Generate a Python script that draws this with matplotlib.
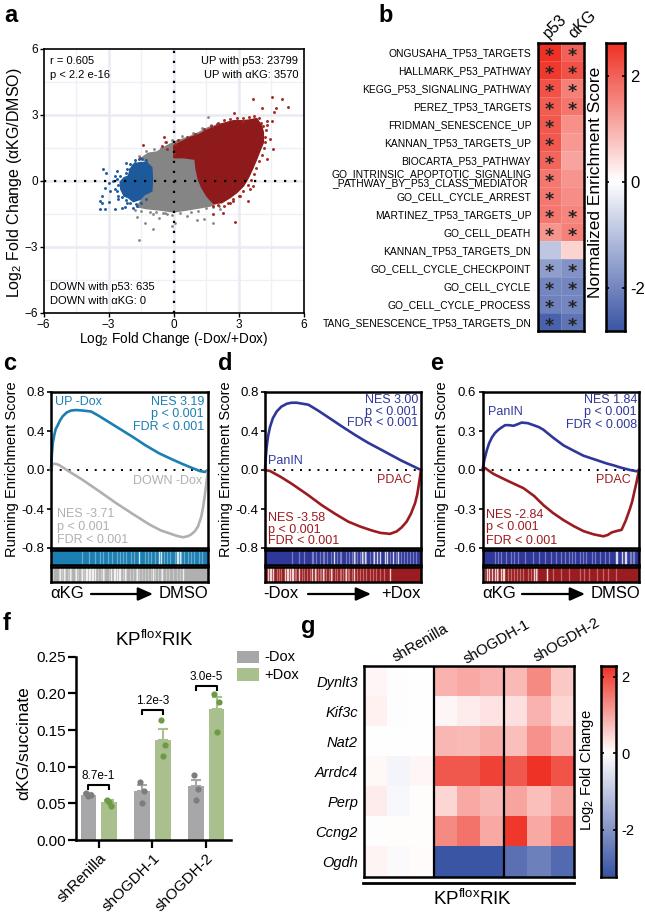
import matplotlib

matplotlib.use("Agg")
import matplotlib.pyplot as plt
from matplotlib.colors import LinearSegmentedColormap, TwoSlopeNorm
from matplotlib.patches import Rectangle

plt.rcParams["font.family"] = ["Liberation Sans", "DejaVu Sans"]
plt.rcParams["mathtext.fontset"] = "custom"
plt.rcParams["mathtext.rm"] = "Liberation Sans"
plt.rcParams["mathtext.it"] = "Liberation Sans:italic"
plt.rcParams["mathtext.default"] = "regular"

W, H = 645, 913

# panel a: cloud outlines and single points
gray_x = [-1.47, -1.17, -0.78, -0.32, 0.14, 0.75, 1.21, 1.6, 1.98, 2.44, 1.98, 1.67, 1.21, 0.6, 0, -0.63, -1.24, -1.7, -1.47, -1.24, -1.01, -1.01]
gray_y = [1.06, 1.26, 1.32, 1.6, 1.82, 2.02, 2.23, 2.43, 2.54, 0.68, -1.02, -1.14, -1.22, -1.32, -1.41, -1.32, -1.26, -1.17, -0.84, -0.61, -0.38, 0.53]
red_x = [0, 0.29, 0.75, 1.21, 1.52, 1.83, 2.13, 2.44, 2.75, 3.21, 3.51, 3.82, 4.05, 4.13, 4.13, 3.97, 3.82, 3.62, 3.44,
         3.21, 2.9, 2.59, 2.21, 1.83, 1.52, 1.29, 1.13, 1.03, 0.98, 0.44, 0]
red_y = [1.6, 1.75, 1.98, 2.13, 2.31, 2.43, 2.58, 2.66, 2.74, 2.74, 2.78, 2.84, 2.51, 2.2, 1.75, 1.37, 0.99, 0.53, 0.15,
         -0.23, -0.53, -0.76, -0.99, -1.02, -0.68, -0.3, 0.08, 0.53, 0.99, 1.06, 1.06]
blue_x = [-1.01, -0.98, -1.01, -1.32, -1.55, -1.86, -2.09, -2.29, -2.44, -2.47, -2.29, -2.09, -2.01, -1.86, -1.55, -1.24]
blue_y = [0.61, 0.08, -0.46, -0.61, -0.84, -0.94, -0.76, -0.68, -0.38, -0.05, 0.15, 0.23, 0.53, 0.76, 0.84, 0.84]
red_pts_x = [3.67, 4.51, 4.97, 5.28, 4.7, 4.05, 4.62, 4.28, 4.51, 4.13, 2.79, 3.17, 2.06, 4.55, -1.4, -0.44, -0.37,
             -0.52, 2.82, 3.41, 2.75, 2.25, 1.83, 2.6, 3.05, 3.67, 4.28, 4.43, 4.2, -1.55, 0, -0.32,
             4.25, 4.2, 4.15, 4.05, 3.95, 3.8, 3.7, 3.55, 3.4, 3.2, 3.0, 2.75, 2.5, 2.3, 3.95, 3.7, 3.45, 3.2, 2.9, 2.6,
             2.3, 2.0, 4.0, 4.3, 1.7, 1.4, 1.0, 0.6, 0.2, 0.05, 2.05, 1.8, 3.5]
red_pts_y = [3.72, 3.83, 3.72, 3.37, 3.34, 3.34, 3.15, 2.74, 2.74, 2.5, 3.1, 2.74, 2.63, 1.44, 1.64, 1.98, 1.75,
             1.6, -1.85, -0.91, -0.84, -1.44, -1.52, -0.99, -0.68, -0.23, 0.99, 1.9, 1.75, 1.06, 1.29, 1.44,
             2.3, 2.0, 1.5, 1.2, 0.9, 0.6, 0.3, 0.05, -0.2, -0.45, -0.7, -0.9, -1.0, -1.15, 2.85, 2.95, 2.9, 2.85, 2.85, 2.8,
             2.75, 2.6, 2.65, 2.55, 2.5, 2.35, 2.15, 2.0, 1.85, 1.7, -1.1, -1.15, -0.35]
gray_pts_x = [-1.58, -0.94, -1.32, -1.67, -0.09, 0.06, 1.06, 1.4, 1.79, 1.6, -0.94, -0.48, 0.6, -0.32, -0.7, 2.13, 1.21,
              -1.6, -1.3, -0.9, -0.6, -0.4, -0.1, 0.4, 0.9, 1.3, 1.7, -1.8, -1.5, -1.1, -0.8, -0.4, -0.1, 0.3, 0.8, 1.1, 1.5, 1.8, 2.1]
gray_pts_y = [-2.69, -2.17, -1.9, -1.63, -2.05, -1.93, -1.78, -1.72, -1.93, 2.93, -1.52, -1.44, -1.6, -1.52, -1.67, -1.29, 2.2,
              1.15, 1.35, 1.45, 1.5, 1.75, 1.85, 2.05, 2.2, 2.4, 2.55, -1.3, -1.35, -1.4, -1.4, -1.45, -1.55, -1.45, -1.42, -1.35, -1.25, -1.2, -1.15]
blue_pts_x = [-3.24, -3.14, -2.62, -2.7, -2.19, -1.78, -3.0, -3.16, -2.93, -3.31, -3.39, -3.42, -3.16, -2.7, -3,
              -3.31, -2.55, -2.24, -2.39, -1.86, -1.7, -2.7, -2.55, -2.16, -2.47, -2.78, -2, -1.7, -1.47,
              -2.6, -2.55, -2.6, -2.4, -2.2, -2.0, -1.75, -1.5, -1.3, -2.2, -2.15, -2, -1.8, -1.6, -1.3]
blue_pts_y = [0.56, 0.38, 0.46, 0.23, 0.84, 0.84, -0.08, -0.3, -0.46, -0.68, -0.91, -1.26, -1.26, -1.26, -0.94,
              -1.02, -0.84, -1.17, -1.22, -1.22, -1.14, -0.38, -0.68, -0.99, 0.23, 0, 0.53, 0.61, 0.99,
              0.1, -0.2, -0.45, -0.75, -0.85, -1.0, -1.05, -1.0, -0.8, 0.35, 0.55, 0.75, 0.95, 1.0, 0.95]

# panel b
gene_sets = ["ONGUSAHA_TP53_TARGETS", "HALLMARK_P53_PATHWAY", "KEGG_P53_SIGNALING_PATHWAY", "PEREZ_TP53_TARGETS",
             "FRIDMAN_SENESCENCE_UP", "KANNAN_TP53_TARGETS_UP", "BIOCARTA_P53_PATHWAY",
             "GO_INTRINSIC_APOPTOTIC_SIGNALING\n_PATHWAY_BY_P53_CLASS_MEDIATOR ", "GO_CELL_CYCLE_ARREST",
             "MARTINEZ_TP53_TARGETS_UP", "GO_CELL_DEATH", "KANNAN_TP53_TARGETS_DN", "GO_CELL_CYCLE_CHECKPOINT",
             "GO_CELL_CYCLE", "GO_CELL_CYCLE_PROCESS", "TANG_SENESCENCE_TP53_TARGETS_DN"]
nes_p53 = [2.6, 2.5, 2.2, 2.05, 2.1, 2.1, 1.95, 1.7, 1.7, 1.7, 1.35, -0.95, -1.6, -2.0, -2.1, -2.6]
nes_akg = [2.0, 2.2, 1.6, 1.75, 1.4, 1.3, 1.15, 1.35, 1.45, 1.55, 1.6, 0.55, -1.8, -2.0, -2.0, -2.3]
sig_p53 = [1, 1, 1, 1, 1, 1, 1, 1, 1, 1, 1, 0, 1, 1, 1, 1]
sig_akg = [1, 1, 1, 1, 0, 0, 0, 0, 0, 1, 1, 0, 1, 1, 1, 1]

# panels c, d, e: running scores (rank in %, score)
c_up_x = [0, 0.3, 0.6, 1.2, 2.1, 3, 4.3, 5.8, 7.4, 10, 12.8, 16, 20, 25.5, 30, 35, 43, 52, 60, 69, 77, 84, 90, 94.7, 98, 100]
c_up_y = [0, 0.09, 0.17, 0.28, 0.36, 0.42, 0.46, 0.51, 0.55, 0.59, 0.61, 0.615, 0.61, 0.60, 0.56, 0.51, 0.43, 0.34, 0.255, 0.17, 0.11, 0.06, 0.02, -0.01, -0.02, 0]
c_dn_x = [0, 1, 2.1, 3.5, 5.3, 12, 20, 30, 41.5, 52, 62.8, 70, 75.5, 80, 84, 87, 89.4, 91.5, 93.6, 95.7, 97, 97.9, 98.9, 100]
c_dn_y = [0, 0.06, 0.065, 0.06, 0.05, -0.02, -0.10, -0.21, -0.34, -0.45, -0.56, -0.62, -0.65, -0.675, -0.69, -0.68, -0.66, -0.63, -0.58, -0.48, -0.37, -0.27, -0.14, 0]
d_up_x = [0, 0.5, 1.1, 2, 3.2, 5, 7.5, 10.5, 14, 17, 20.3, 24, 27.8, 34, 40.6, 49, 57.7, 66, 74.8, 87, 100]
d_up_y = [0, 0.13, 0.24, 0.35, 0.44, 0.53, 0.60, 0.65, 0.68, 0.69, 0.69, 0.68, 0.67, 0.61, 0.54, 0.45, 0.36, 0.28, 0.205, 0.1, 0]
d_dn_x = [0, 3.2, 10, 17, 27, 36.3, 45, 53.4, 61, 68.4, 74, 80.1, 84.4, 87.5, 90.8, 93.5, 96.2, 97.6, 98.7, 100]
d_dn_y = [0, -0.01, -0.07, -0.14, -0.25, -0.36, -0.45, -0.53, -0.58, -0.62, -0.645, -0.655, -0.63, -0.59, -0.53, -0.45, -0.34, -0.25, -0.14, 0]
e_up_x = [0, 1.2, 2.8, 4.2, 6, 8, 10.2, 12.5, 14.5, 17, 19.8, 22, 25.1, 29, 32.6, 36, 38.9, 45, 51.7, 58, 64.5, 72, 79.4, 84, 87.9, 94.3, 98.5, 100]
e_up_y = [0, 0.08, 0.154, 0.205, 0.25, 0.285, 0.31, 0.33, 0.345, 0.345, 0.34, 0.35, 0.365, 0.36, 0.345, 0.33, 0.31, 0.25, 0.19, 0.15, 0.11, 0.08, 0.05, 0.035, 0.02, 0, -0.01, 0]
e_dn_x = [0, 1.7, 4, 7, 15.5, 26.2, 33, 38.9, 45, 51.7, 58, 64.5, 71, 77.2, 80, 82.6, 85.5, 88.9, 91.5, 94.3, 95.7, 96.8, 98.5, 100]
e_dn_y = [0, 0.015, -0.005, -0.03, -0.08, -0.14, -0.2, -0.27, -0.33, -0.385, -0.43, -0.47, -0.495, -0.51, -0.5, -0.48, -0.47, -0.46, -0.39, -0.295, -0.24, -0.18, -0.09, 0]

# barcode strips: positions of pale and white lines, in % of rank
c_up_pale = [20, 24, 28, 31, 33, 36, 39, 42, 44, 46, 48, 51, 53, 60, 62, 64, 66, 72, 74, 76, 79, 83, 85, 87, 89, 91, 94, 96]
c_up_white = [56, 69, 70, 80, 81, 82]
c_dn_pale = [1, 5, 7, 9, 11, 13, 15, 17, 19, 21, 30, 32, 34, 37, 46, 48, 50, 52, 54, 56, 58, 60, 62, 64, 66, 68, 70, 73, 75, 78, 80, 82]
c_dn_white = [6, 8, 12, 16, 20, 22, 23, 24, 25, 26, 27, 28, 33, 38, 40, 41, 42, 43, 44, 47, 55, 65, 71, 84]
d_up_pale = [17, 22, 25, 30, 31, 33, 35, 37, 38, 40, 42, 46, 48, 49, 52, 54, 56, 58, 59, 61, 63, 65, 67, 69, 80, 84, 87, 89, 91, 93, 95, 97]
d_up_white = [44, 57, 62, 64, 70, 72, 74, 77, 78, 82, 85]
d_dn_pale = [8, 9, 10, 19, 20, 24, 25, 27, 29, 33, 34, 35, 36, 38, 39, 41, 43, 45, 46, 48, 49, 50, 51, 53, 54, 56, 59, 61, 63, 65, 67, 69, 71, 74, 76]
d_dn_white = [2, 3, 4, 5, 13, 14, 15, 16, 17, 18, 22, 30, 32, 37, 42, 52, 57, 80]
e_up_pale = [8, 10, 12, 15, 18, 20, 23, 27, 32, 36, 40, 44, 47, 50, 53, 55, 57, 59, 62, 64, 66, 70, 72, 75, 78, 81, 94, 95, 96, 97]
e_up_white = [85, 86, 89, 91, 92]
e_dn_pale = [10, 16, 18, 20, 22, 24, 26, 29, 31, 35, 41, 45, 50, 55, 62, 65, 68, 73, 77, 80, 85]
e_dn_white = [1, 3, 4, 6, 8, 9, 12, 13, 14, 33, 34, 41]

# panel f
groups = ["shRenilla", "shOGDH-1", "shOGDH-2"]
minus_dox = [0.062, 0.067, 0.073]
plus_dox = [0.052, 0.137, 0.179]
minus_err = [0.002, 0.008, 0.009]
plus_err = [0.003, 0.014, 0.016]
minus_pts = [[0.064, 0.061, 0.060], [0.079, 0.067, 0.050], [0.089, 0.069, 0.054]]
plus_pts = [[0.054, 0.047, 0.052], [0.163, 0.130, 0.115], [0.199, 0.188, 0.147]]
pts_dx = [-0.04, 0.04, 0.0]
pvals = ["8.7e-1", "1.2e-3", "3.0e-5"]
bracket_y = [0.075, 0.177, 0.21]

# panel g
genes = ["Dynlt3", "Kif3c", "Nat2", "Arrdc4", "Perp", "Ccng2", "Ogdh"]
lfc = [[0.1, -0.03, 0, 0.85, 0.95, 0.85, 0.75, 1.3, 0.6],
       [0.15, -0.05, 0, 0.1, 0.2, 0.3, 0.35, 0.85, 0.45],
       [0, -0.01, 0.01, 0.8, 0.75, 0.9, 0.7, 1.2, 0.85],
       [0.08, -0.2, 0.1, 1.85, 1.85, 2.1, 1.85, 2.25, 1.9],
       [0.2, -0.15, 0.03, 0.45, 0.95, 0.8, 1.0, 0.7, 1.0],
       [-0.04, 0.03, 0.03, 1.3, 1.55, 0.95, 2.2, 0.95, 1.45],
       [0.12, -0.1, 0.05, -3.2, -3.2, -3.2, -2.7, -2.4, -2.8]]

BLUE = "#2f379a"
RED = "#9b1c20"
TEAL = "#1b7fb3"
GREY = "#b0b0b0"
cmap = LinearSegmentedColormap.from_list("bwr2", ["#3b55a5", "#ffffff", "#ee3124"])

fig = plt.figure(figsize=(W / 100, H / 100), dpi=100)


def axes_px(x0, y0, x1, y1):
    # axes from pixel box, y counted from the top
    return fig.add_axes([x0 / W, 1 - y1 / H, (x1 - x0) / W, (y1 - y0) / H])


def frame(ax, lw=1.8):
    for s in ax.spines.values():
        s.set_linewidth(lw)
        s.set_color("black")


ov = fig.add_axes([0, 0, 1, 1], zorder=10)
ov.set_xlim(0, W)
ov.set_ylim(H, 0)
ov.axis("off")


def label(x, y, s, size=9, ha="left", color="black", **kw):
    ov.text(x, y, s, fontsize=size, ha=ha, va="center", color=color, **kw)


for s, x, y in [("a", 4, 15), ("b", 378, 15), ("c", 3, 363), ("d", 218, 363), ("e", 430, 363), ("f", 3, 623), ("g", 301, 627)]:
    label(x, y, s, size=17, fontweight="bold")

# --- a ---
ax = axes_px(43.5, 49, 304, 313)
ax.set_xlim(-6, 6)
ax.set_ylim(-6, 6)
grid_minor = [-4.5, -1.5, 1.5, 4.5]
grid_major = [-3, 0, 3]
for g in grid_minor:
    ax.axvline(g, color="#eef0f5", lw=1, zorder=0)
    ax.axhline(g, color="#eef0f5", lw=1, zorder=0)
for g in grid_major:
    ax.axvline(g, color="#e8ebf1", lw=1.8, zorder=0)
    ax.axhline(g, color="#e8ebf1", lw=1.8, zorder=0)
ax.fill(gray_x, gray_y, color="#858585", lw=1, zorder=1)
ax.fill(red_x, red_y, color="#8e1a1c", lw=1, zorder=2)
ax.fill(blue_x, blue_y, color="#1d5a9c", lw=1, zorder=2)
ax.scatter(gray_pts_x, gray_pts_y, s=4, color="#858585", lw=0, zorder=1)
ax.scatter(red_pts_x, red_pts_y, s=4.5, color="#a32a22", lw=0, zorder=2)
ax.scatter(blue_pts_x, blue_pts_y, s=4.5, color="#1d5a9c", lw=0, zorder=2)
ax.axvline(0, color="black", lw=1.6, dashes=(1, 3.5), zorder=3)
ax.axhline(0, color="black", lw=1.6, dashes=(1, 3.5), zorder=3)
ax.set_xticks([-6, -3, 0, 3, 6], ["−6", "−3", "0", "3", "6"])
ax.set_yticks([-6, -3, 0, 3, 6], ["−6", "−3", "0", "3", "6"])
ax.tick_params(labelsize=8.5, length=3, width=1, pad=1)
frame(ax, 1.2)
label(174, 339, "Log$_2$ Fold Change (-Dox/+Dox)", size=9.8, ha="center")
label(15, 183, "Log$_2$ Fold Change (αKG/DMSO)", size=11.5, ha="center", rotation=90)
label(50, 61, "r = 0.605", size=8)
label(50, 75, "p < 2.2 e-16", size=8)
label(298, 61, "UP with p53: 23799", size=8, ha="right")
label(298, 75, "UP with αKG: 3570", size=8, ha="right")
label(50, 287, "DOWN with p53: 635", size=8)
label(50, 301, "DOWN with αKG: 0", size=8)

# --- b ---
norm_b = TwoSlopeNorm(vcenter=0, vmin=-2.83, vmax=2.62)
ax = axes_px(537.5, 43, 583.5, 331.5)
ax.pcolormesh([[a, b] for a, b in zip(nes_p53, nes_akg)], cmap=cmap, norm=norm_b,
              edgecolors=(1, 1, 1, 0.15), linewidth=0.4)
ax.set_ylim(len(gene_sets), 0)
ax.set_yticks([i + 0.5 for i in range(len(gene_sets))], gene_sets, fontsize=7.4, linespacing=0.85)
ax.set_xticks([])
ax.tick_params(axis="y", length=0, pad=4.5)
frame(ax)
for i in range(len(gene_sets)):
    if sig_p53[i]:
        ax.text(0.5, i + 0.7, "*", fontsize=12.5, family="DejaVu Sans", fontweight="bold", ha="center", va="center", color="#222222")
    if sig_akg[i]:
        ax.text(1.5, i + 0.7, "*", fontsize=12.5, family="DejaVu Sans", fontweight="bold", ha="center", va="center", color="#222222")
label(555, 26, "p53", size=11.5, ha="center", rotation=45)
label(583, 24, "αKG", size=11.5, ha="center", rotation=45)

cb = axes_px(606, 43, 625, 331.5)
cb.imshow([[v / 50] for v in range(131, -142, -1)], aspect="auto", cmap=cmap, norm=norm_b, extent=[0, 1, -2.83, 2.62])
cb.set_xticks([])
cb.set_yticks([-2, 0, 2], ["-2", "0", "2"])
cb.yaxis.tick_right()
cb.tick_params(axis="y", left=True, right=True, direction="in", length=2, width=1.2, labelsize=12, pad=4)
frame(cb)
label(595, 182, "Normalized Enrichment Score", size=12.5, ha="center", rotation=90)


# --- c, d, e ---
def gsea_panel(x0, x1, lim, ticks, up, dn, colors, strips):
    ax = axes_px(x0, 392, x1, 548)
    ax.set_xlim(0, 100)
    ax.set_ylim(-lim, lim)
    ax.axhline(0, color="black", lw=1.4, dashes=(1, 3.5), zorder=1)
    ax.plot(up[0], up[1], color=colors[0], lw=1.9, zorder=2, clip_on=False)
    ax.plot(dn[0], dn[1], color=colors[1], lw=1.9, zorder=2, clip_on=False)
    ax.set_xticks([])
    ax.set_yticks(ticks, ["%.1f" % t for t in ticks])
    ax.tick_params(axis="y", labelsize=9.5, length=3, width=1.2, pad=1.5)
    frame(ax)
    for j, (y0, y1) in enumerate([(549.5, 565), (566.5, 581.5)]):
        st = axes_px(x0, y0, x1, y1)
        st.set_xlim(0, 100)
        st.set_ylim(0, 1)
        st.set_facecolor(colors[j])
        st.vlines(strips[j][0], 0, 1, color="white", alpha=0.35, lw=0.9)
        st.vlines(strips[j][1], 0, 1, color="white", alpha=0.8, lw=1)
        st.set_xticks([])
        st.set_yticks([])
        frame(st)


gsea_panel(51, 208, 0.8, [-0.8, -0.4, 0, 0.4, 0.8], (c_up_x, c_up_y), (c_dn_x, c_dn_y), (TEAL, GREY),
           [(c_up_pale, c_up_white), (c_dn_pale, c_dn_white)])
gsea_panel(265, 421, 0.8, [-0.8, -0.4, 0, 0.4, 0.8], (d_up_x, d_up_y), (d_dn_x, d_dn_y), (BLUE, RED),
           [(d_up_pale, d_up_white), (d_dn_pale, d_dn_white)])
gsea_panel(482.5, 639, 0.6, [-0.6, -0.3, 0, 0.3, 0.6], (e_up_x, e_up_y), (e_dn_x, e_dn_y), (BLUE, RED),
           [(e_up_pale, e_up_white), (e_dn_pale, e_dn_white)])

for x in [12, 226, 442]:
    label(x, 469, "Running Enrichment Score", size=10.5, ha="center", rotation=90)

# c texts
label(55, 402, "UP -Dox", color=TEAL)
for y, s in [(402, "NES 3.19"), (414, "p < 0.001"), (427, "FDR < 0.001")]:
    label(204, y, s, ha="right", color=TEAL)
label(202, 481, "DOWN -Dox", ha="right", color=GREY)
for y, s in [(514, "NES -3.71"), (527, "p < 0.001"), (540, "FDR < 0.001")]:
    label(57, y, s, color=GREY)
# d texts
label(268, 461, "PanIN", color=BLUE)
label(412, 480, "PDAC", ha="right", color=RED)
for y, s in [(400, "NES 3.00"), (412, "p < 0.001"), (423, "FDR < 0.001")]:
    label(418, y, s, ha="right", color=BLUE)
for y, s in [(518, "NES -3.58"), (530, "p < 0.001"), (541, "FDR < 0.001")]:
    label(268, y, s, color=RED)
# e texts
label(488, 412, "PanIN", color=BLUE)
label(631, 480, "PDAC", ha="right", color=RED)
for y, s in [(400, "NES 1.84"), (412, "p < 0.001"), (425, "FDR < 0.008")]:
    label(637, y, s, ha="right", color=BLUE)
for y, s in [(515, "NES -2.84"), (527, "p < 0.001"), (541, "FDR < 0.001")]:
    label(486, y, s, color=RED)

for left, lx, right, rx, a0, a1 in [("αKG", 50, "DMSO", 208, 91, 153), ("-Dox", 263, "+Dox", 421, 308, 371),
                                    ("αKG", 482, "DMSO", 640, 522, 585)]:
    label(lx, 593, left, size=12)
    label(rx, 593, right, size=12, ha="right")
    ov.annotate("", xy=(a1, 594), xytext=(a0, 594),
                arrowprops=dict(arrowstyle="-|>,head_length=0.9,head_width=0.4", color="black", lw=1.6,
                                shrinkA=0, shrinkB=0))

# --- f ---
ax = axes_px(76, 656.7, 230.7, 840)
ax.set_xlim(-0.42, 2.453)
ax.set_ylim(0, 0.25)
BW = 0.29
OFF = 0.19
for i in range(3):
    ax.bar(i - OFF, minus_dox[i], BW, color="#a7a7a9")
    ax.bar(i + OFF, plus_dox[i], BW, color="#a9bf8d")
    ax.errorbar(i - OFF, minus_dox[i], yerr=[[0], [minus_err[i]]], color="#a7a7a9", capsize=3.5, lw=1.5, capthick=1.5)
    ax.errorbar(i + OFF, plus_dox[i], yerr=[[0], [plus_err[i]]], color="#a9bf8d", capsize=3.5, lw=1.5, capthick=1.5)
    ax.scatter([i - OFF + d for d in pts_dx], minus_pts[i], s=20, color="#7d7d7f", lw=0, zorder=4, clip_on=False)
    ax.scatter([i + OFF + d for d in pts_dx], plus_pts[i], s=20, color="#6d9a45", lw=0, zorder=4, clip_on=False)
    ax.plot([i - OFF, i - OFF, i + OFF, i + OFF], [bracket_y[i] - 0.005, bracket_y[i], bracket_y[i], bracket_y[i] - 0.005],
            color="black", lw=1.5, clip_on=False)
    ax.text(i, bracket_y[i] + 0.0125, pvals[i], fontsize=8.5, ha="center", va="center")
ax.spines["top"].set_visible(False)
ax.spines["right"].set_visible(False)
ax.spines["left"].set_linewidth(1.8)
ax.spines["bottom"].set_linewidth(1.8)
ax.set_yticks([0, 0.05, 0.10, 0.15, 0.20, 0.25], ["0.00", "0.05", "0.10", "0.15", "0.20", "0.25"])
ax.set_xticks([0, 1, 2])
ax.set_xticklabels(groups, rotation=45, ha="right", rotation_mode="anchor")
ax.tick_params(labelsize=11, length=6, width=1.6, pad=1.5)
ax.tick_params(axis="x", pad=2)
label(155, 640, r"KP$^{\mathrm{flox}}$RIK", size=13.5, ha="center")
label(24, 743, "αKG/succinate", size=12.5, ha="center", rotation=90)
ov.add_patch(Rectangle((237, 651), 22, 12.5, color="#a7a7a9", lw=0))
ov.add_patch(Rectangle((237, 668.5), 22, 12.5, color="#a9bf8d", lw=0))
label(264, 657, "-Dox", size=10.5)
label(264, 675, "+Dox", size=10.5)

# --- g ---
norm_g = TwoSlopeNorm(vcenter=0, vmin=-3.22, vmax=2.28)
ax = axes_px(363.5, 666, 574, 876.5)
ax.pcolormesh(lfc, cmap=cmap, norm=norm_g)
ax.set_ylim(len(genes), 0)
ax.set_yticks([i + 0.5 for i in range(len(genes))], genes, fontsize=10.5, fontstyle="italic")
ax.set_xticks([])
ax.tick_params(axis="y", length=0, pad=4)
ax.axvline(3, color="black", lw=1.6)
ax.axvline(6, color="black", lw=1.6)
frame(ax)
for x, y, s in [(420, 643, "shRenilla"), (497, 642, "shOGDH-1"), (567, 640, "shOGDH-2")]:
    label(x, y, s, size=10.8, ha="center", rotation=30, rotation_mode="anchor")
ov.plot([363, 574], [883, 883], color="black", lw=2)
label(473, 899, r"KP$^{\mathrm{flox}}$RIK", size=13.5, ha="center")

cb = axes_px(601, 666, 616, 876.5)
cb.imshow([[v / 50] for v in range(114, -162, -1)], aspect="auto", cmap=cmap, norm=norm_g, extent=[0, 1, -3.22, 2.28])
cb.set_xticks([])
cb.set_yticks([-2, 0, 2], ["-2", "0", "2"])
cb.yaxis.tick_right()
cb.tick_params(axis="y", left=True, right=True, direction="in", length=2, width=1.2, labelsize=10.5, pad=4)
frame(cb)
label(587, 770, "Log$_2$ Fold Change", size=10.7, ha="center", rotation=90)

fig.savefig("out.png", dpi=100)
